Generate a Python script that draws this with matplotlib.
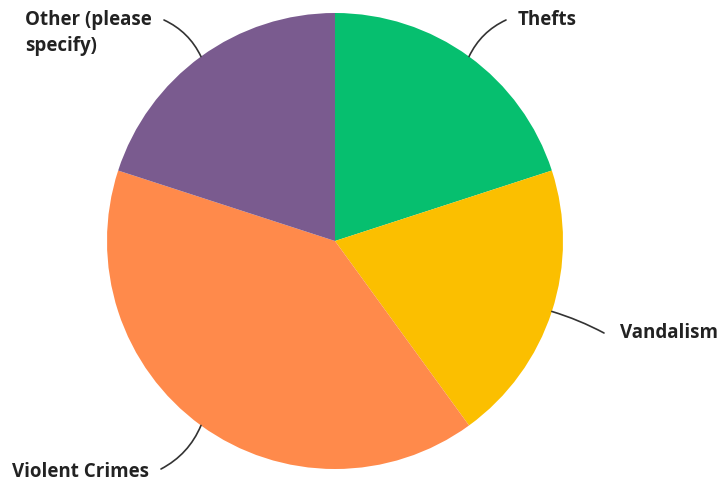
import numpy as np
import matplotlib.pyplot as plt

labels = ["Thefts", "Vandalism", "Violent Crimes", "Other (please\nspecify)"]
shares = [20, 20, 40, 20]
colors = ["#06bf6f", "#fbbf00", "#ff8a4b", "#7a5b8f"]

# label text anchors and leader start points, in pixels of the 722x485 canvas
text_px = [(518, 20), (620, 333), (12, 472), (25, 33)]
lead_px = [(506, 21), (604, 334), (161, 470), (164, 21)]
lead_rad = [0.18, 0.05, 0.18, -0.18]


def main():
    fig = plt.figure(figsize=(7.22, 4.85), dpi=100)
    ax = fig.add_axes([0, 0, 1, 1])
    cx, cy, r = 335, 242, 228

    def px(p):
        return ((p[0] - cx) / r, (cy - p[1]) / r)

    wedges, _ = ax.pie(shares, colors=colors, startangle=90, counterclock=False,
                       radius=1, center=(0, 0), frame=True)
    ax.set_xlim(-cx / r, (722 - cx) / r)
    ax.set_ylim((cy - 485) / r, cy / r)
    ax.set_aspect("equal")
    ax.axis("off")

    for w, lab, tp, lp, rad in zip(wedges, labels, text_px, lead_px, lead_rad):
        mid = np.deg2rad((w.theta1 + w.theta2) / 2)
        edge = (np.cos(mid), np.sin(mid))
        ax.text(*px(tp), lab, ha="left", va="center", fontsize=13.5,
                fontweight="bold", family="Open Sans", color="#222222",
                linespacing=1.45)
        ax.annotate("", xy=edge, xytext=px(lp),
                    arrowprops=dict(arrowstyle="-", color="#333333", lw=1.2,
                                    shrinkA=0, shrinkB=0,
                                    connectionstyle="arc3,rad=%s" % rad))

    fig.savefig("out.png", dpi=100, facecolor="white")


if __name__ == '__main__':
    main()
